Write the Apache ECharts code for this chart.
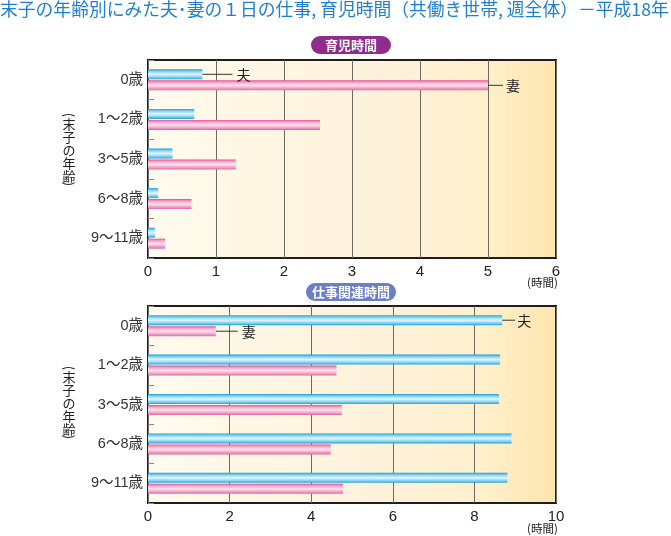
<!DOCTYPE html>
<html><head><meta charset="utf-8">
<script src="https://cdn.jsdelivr.net/npm/echarts@6/dist/echarts.min.js"></script>
<style>html,body{margin:0;padding:0;background:#fff}#c{width:671px;height:536px}</style>
</head><body><div id="c"></div>
<script>
const categories = ['0歳', '1～2歳', '3～5歳', '6～8歳', '9～11歳'];
const childcareHusband = [0.80, 0.68, 0.36, 0.15, 0.10];
const childcareWife = [5.00, 2.53, 1.29, 0.64, 0.25];
const workHusband = [8.68, 8.63, 8.60, 8.91, 8.81];
const workWife = [1.66, 4.62, 4.75, 4.48, 4.78];
const childcareAxis = {min: 0, max: 6, interval: 1};
const workAxis = {min: 0, max: 10, interval: 2};
const titleText = '末子の年齢別にみた夫･妻の１日の仕事, 育児時間（共働き世帯, 週全体）－平成18年';
const panelTitles = ['育児時間', '仕事関連時間'];
const yAxisTitle = '末子の年齢';
const unitText = '(時間)';

const FONT = '"Liberation Sans", "Noto Sans CJK JP", sans-serif';
const CJK = '"Noto Sans CJK JP", sans-serif';

const blueGrad = {type: 'linear', x: 0, y: 0, x2: 0, y2: 1, colorStops: [
  {offset: 0, color: '#129fdc'}, {offset: 0.2, color: '#7fd0f3'}, {offset: 0.5, color: '#e4f6fd'},
  {offset: 0.8, color: '#7fd0f3'}, {offset: 1, color: '#1ea2dc'}]};
const pinkGrad = {type: 'linear', x: 0, y: 0, x2: 0, y2: 1, colorStops: [
  {offset: 0, color: '#e24f95'}, {offset: 0.2, color: '#f4a3c7'}, {offset: 0.5, color: '#fde3ee'},
  {offset: 0.8, color: '#f29ec4'}, {offset: 1, color: '#e266a2'}]};
const bgGrad = {type: 'linear', x: 0, y: 0, x2: 1, y2: 0, colorStops: [
  {offset: 0, color: '#fffbef'}, {offset: 0.25, color: '#fff7e4'}, {offset: 0.6, color: '#fdf1da'},
  {offset: 0.82, color: '#fff0cb'}, {offset: 1, color: '#fde5ae'}]};

function leader(text, len, gap) {
  return {
    show: true, position: 'right', distance: 0,
    formatter: '{l|}{t|' + text + '}',
    rich: {
      l: {width: len, height: 1, backgroundColor: '#333'},
      t: {fontFamily: CJK, fontSize: 14, color: '#222', padding: [0, 0, 0, gap]}
    }
  };
}
function withLabel(arr, idx, label) {
  return arr.map((v, i) => i === idx ? {value: v, label: label} : v);
}

function catAxis(gi) {
  return {
    type: 'category', gridIndex: gi, data: categories, inverse: true,
    axisLine: {show: false},
    axisTick: {show: true, inside: true, length: 6, lineStyle: {color: '#888'}},
    axisLabel: {fontFamily: FONT, fontSize: 14.5, color: '#333', margin: 5}
  };
}
function valAxis(gi, cfg) {
  return {
    type: 'value', gridIndex: gi, min: cfg.min, max: cfg.max, interval: cfg.interval,
    axisLine: {show: false}, axisTick: {show: false},
    axisLabel: {fontFamily: FONT, fontSize: 15, color: '#222', margin: 6},
    splitLine: {show: true, lineStyle: {color: '#6d6a66', width: 1}}
  };
}

function yParens(top) {
  const base = {fontFamily: 'Noto Sans CJK JP', fontSize: 13, fill: '#222', align: 'center', verticalAlign: 'middle'};
  return [
    {type: 'text', x: 69, y: top + 2, rotation: -Math.PI / 2, silent: true, style: Object.assign({text: '('}, base)},
    {type: 'text', x: 69, y: top + 71, rotation: -Math.PI / 2, silent: true, style: Object.assign({text: ')'}, base)}
  ];
}
function yTitleChars(top) {
  return {text: yAxisTitle.split('').join('\n'), left: 62.5, top: top + 5, padding: 0,
    textStyle: {fontFamily: CJK, fontSize: 13, lineHeight: 12.8, fontWeight: 'normal', color: '#222'}};
}

const chart = echarts.init(document.getElementById('c'));
chart.setOption({
  animation: false,
  title: [
    {text: titleText, left: 0, top: 0, padding: 0, textStyle: {fontFamily: CJK, fontSize: 17.8, fontWeight: 'normal', color: '#1f7fcf'}},
    {text: panelTitles[0], left: 311, top: 36, padding: [2, 14], borderRadius: 10, backgroundColor: '#902c8e',
     textStyle: {fontFamily: CJK, fontSize: 13, fontWeight: 'bold', color: '#fff', lineHeight: 14}},
    {text: panelTitles[1], left: 306, top: 283, padding: [2, 6], borderRadius: 10, backgroundColor: '#6b7fc6',
     textStyle: {fontFamily: CJK, fontSize: 13, fontWeight: 'bold', color: '#fff', lineHeight: 14}},
    {text: unitText, left: 527, top: 277, padding: 0, textStyle: {fontFamily: CJK, fontSize: 11.5, fontWeight: 'normal', color: '#222'}},
    {text: unitText, left: 527, top: 523, padding: 0, textStyle: {fontFamily: CJK, fontSize: 11.5, fontWeight: 'normal', color: '#222'}},
    yTitleChars(113),
    yTitleChars(366)
  ],
  graphic: yParens(113).concat(yParens(366)),
  grid: [
    {left: 148, right: 115, top: 60, height: 198, show: true, backgroundColor: bgGrad, borderColor: '#1e1e1e', borderWidth: 2},
    {left: 148, right: 115, top: 306, height: 197, show: true, backgroundColor: bgGrad, borderColor: '#1e1e1e', borderWidth: 2}
  ],
  yAxis: [catAxis(0), catAxis(1)],
  xAxis: [valAxis(0, childcareAxis), valAxis(1, workAxis)],
  series: [
    {name: '夫', type: 'bar', xAxisIndex: 0, yAxisIndex: 0, barWidth: 10, barGap: '10%',
     itemStyle: {color: blueGrad}, data: withLabel(childcareHusband, 0, leader('夫', 30, 4))},
    {name: '妻', type: 'bar', xAxisIndex: 0, yAxisIndex: 0, barWidth: 10, barGap: '10%',
     itemStyle: {color: pinkGrad}, data: withLabel(childcareWife, 0, leader('妻', 15, 3))},
    {name: '夫', type: 'bar', xAxisIndex: 1, yAxisIndex: 1, barWidth: 10, barGap: '10%',
     itemStyle: {color: blueGrad}, data: withLabel(workHusband, 0, leader('夫', 13, 2))},
    {name: '妻', type: 'bar', xAxisIndex: 1, yAxisIndex: 1, barWidth: 10, barGap: '10%',
     itemStyle: {color: pinkGrad}, data: withLabel(workWife, 0, leader('妻', 22, 4))}
  ]
});
</script></body></html>
